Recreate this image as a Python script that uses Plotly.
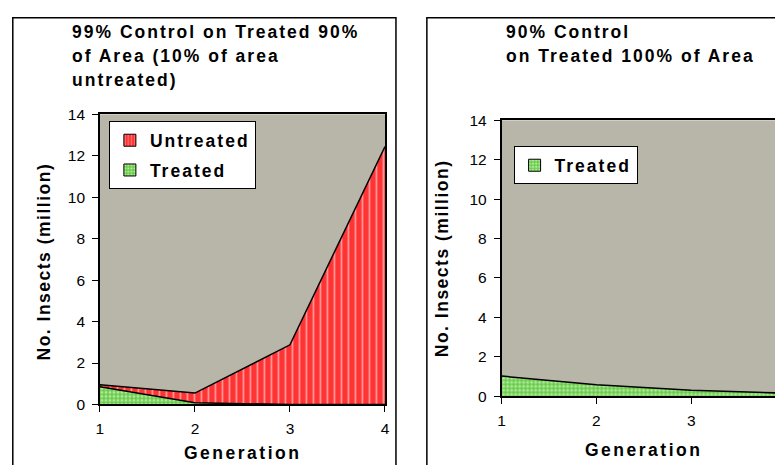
import plotly.graph_objects as go

# ---- data ----
generations = [1, 2, 3, 4]
left_treated = [0.85, 0.08, 0.0, 0.0]
left_untreated = [0.10, 0.47, 2.88, 12.45]
right_treated = [1.02, 0.58, 0.30, 0.15]
y_ticks = [0, 2, 4, 6, 8, 10, 12, 14]
x_ticks = [1, 2, 3, 4]
x_ticks_right_visible = [1, 2, 3]
left_title = ["99% Control on Treated 90%", "of Area (10% of area", "untreated)"]
right_title = ["90% Control", "on Treated 100% of Area"]
y_title = "No. Insects (million)"
x_title = "Generation"

W, H = 783, 465
FONT = "Arial, Liberation Sans, sans-serif"
GRAY = "#B8B6A9"
RED = "#FF3333"
GREEN = "#66CC44"

# map from target picture pixels to paper coordinates (calibrated)
OX, SX, OY, SY = 10.8, 0.9917, 16.7, 0.963


def px(x):
    return (x - OX) / SX / W


def py(y):
    return 1 - (y - OY) / SY / H


def sp(text, ls):
    return f"<span style='letter-spacing:{ls}px'>{text}</span>"


red_pat = dict(shape="|", bgcolor=RED, fgcolor="white", size=7, solidity=0.25)
green_pat = dict(shape=".", bgcolor=GREEN, fgcolor="white", size=4, solidity=0.45)

fig = go.Figure()

# left panel areas (stacked)
fig.add_trace(go.Scatter(x=generations, y=left_treated, stackgroup="L", mode="lines",
                         line=dict(color="black", width=1.5), fillpattern=green_pat,
                         fillcolor=GREEN, showlegend=False, xaxis="x", yaxis="y"))
fig.add_trace(go.Scatter(x=generations, y=left_untreated, stackgroup="L", mode="lines",
                         line=dict(color="black", width=1.5), fillpattern=red_pat,
                         fillcolor=RED, showlegend=False, xaxis="x", yaxis="y"))
# right panel area
fig.add_trace(go.Scatter(x=generations, y=right_treated, fill="tozeroy", mode="lines",
                         line=dict(color="black", width=1.5), fillpattern=green_pat,
                         fillcolor=GREEN, showlegend=False, xaxis="x2", yaxis="y2"))

# legend entries
fig.add_trace(go.Bar(x=[None], y=[None], name=sp("Untreated", 2), legend="legend",
                     legendgroup="u", marker=dict(color=RED, line=dict(color="black", width=1),
                                                  pattern=dict(shape="|", bgcolor=RED, fgcolor="white", size=4, solidity=0.25)),
                     xaxis="x", yaxis="y"))
fig.add_trace(go.Bar(x=[None], y=[None], name=sp("Treated", 2), legend="legend",
                     legendgroup="t", marker=dict(color=GREEN, line=dict(color="black", width=1),
                                                  pattern=dict(shape=".", bgcolor=GREEN, fgcolor="white", size=4, solidity=0.45)),
                     xaxis="x", yaxis="y"))
fig.add_trace(go.Bar(x=[None], y=[None], name=sp("Treated", 2), legend="legend2",
                     marker=dict(color=GREEN, line=dict(color="black", width=1),
                                 pattern=dict(shape=".", bgcolor=GREEN, fgcolor="white", size=4, solidity=0.45)),
                     xaxis="x2", yaxis="y2"))

axis_common = dict(showline=True, linecolor="black", linewidth=1.6, ticks="outside",
                   ticklen=6, tickwidth=1.2, tickcolor="black", showgrid=False, zeroline=False,
                   tickfont=dict(family=FONT, size=15.5, color="black"), mirror=True)

fig.update_layout(
    width=W, height=H, margin=dict(l=0, r=0, t=0, b=0), autosize=False,
    paper_bgcolor="white", plot_bgcolor=GRAY,
    font=dict(family=FONT, color="black"),
    xaxis=dict(domain=[px(99), px(385)], range=[1, 4], tickvals=x_ticks,
               anchor="y", ticklabelstandoff=3, **axis_common),
    yaxis=dict(domain=[py(404), py(114)], range=[0, 14], tickvals=y_ticks,
               anchor="x", ticklabelstandoff=4, **axis_common),
    xaxis2=dict(domain=[px(502), 1.0], range=[1, 4], tickvals=x_ticks_right_visible,
                anchor="y2", ticklabelstandoff=3, **axis_common),
    yaxis2=dict(domain=[py(395.7), py(120)], range=[0, 14], tickvals=y_ticks,
                anchor="x2", ticklabelstandoff=4, **axis_common),
    legend=dict(x=px(108), y=py(121), xanchor="left", yanchor="top", bgcolor="white",
                bordercolor="black", borderwidth=1, tracegroupgap=4,
                font=dict(family=FONT, size=17.5, weight="bold", color="black")),
    legend2=dict(x=px(514), y=py(146), xanchor="left", yanchor="top", bgcolor="white",
                 bordercolor="black", borderwidth=1,
                 font=dict(family=FONT, size=17.5, weight="bold", color="black")),
    showlegend=True,
)

# panel borders
fig.add_shape(type="rect", xref="paper", yref="paper", x0=0.8 / W, x1=px(396), y0=-0.2, y1=1 - 0.8 / H,
              line=dict(color="black", width=1.5), layer="below")
fig.add_shape(type="rect", xref="paper", yref="paper", x0=px(427), x1=1.2, y0=-0.2, y1=1 - 0.8 / H,
              line=dict(color="black", width=1.5), layer="below")

bold = dict(family=FONT, size=17.5, color="black", weight="bold")
for i, line in enumerate(left_title):
    fig.add_annotation(text=sp(line, 2), xref="paper", yref="paper", x=px(69), y=py(32 + 24 * i),
                       xanchor="left", yanchor="middle", showarrow=False, font=bold)
for i, line in enumerate(right_title):
    fig.add_annotation(text=sp(line, 2), xref="paper", yref="paper", x=px(504), y=py(31.7 + 23.5 * i),
                       xanchor="left", yanchor="middle", showarrow=False, font=bold)

# axis titles
for xc, yc in [(43, 261), (443, 258)]:
    fig.add_annotation(text=sp(y_title, 1.5), xref="paper", yref="paper", x=px(xc), y=py(yc),
                       xanchor="center", yanchor="middle", textangle=-90, showarrow=False, font=bold)
for xc, yc in [(242, 453), (644, 450)]:
    fig.add_annotation(text=sp(x_title, 2.5), xref="paper", yref="paper", x=px(xc), y=py(yc),
                       xanchor="center", yanchor="middle", showarrow=False, font=bold)

fig.write_html("out.html")
